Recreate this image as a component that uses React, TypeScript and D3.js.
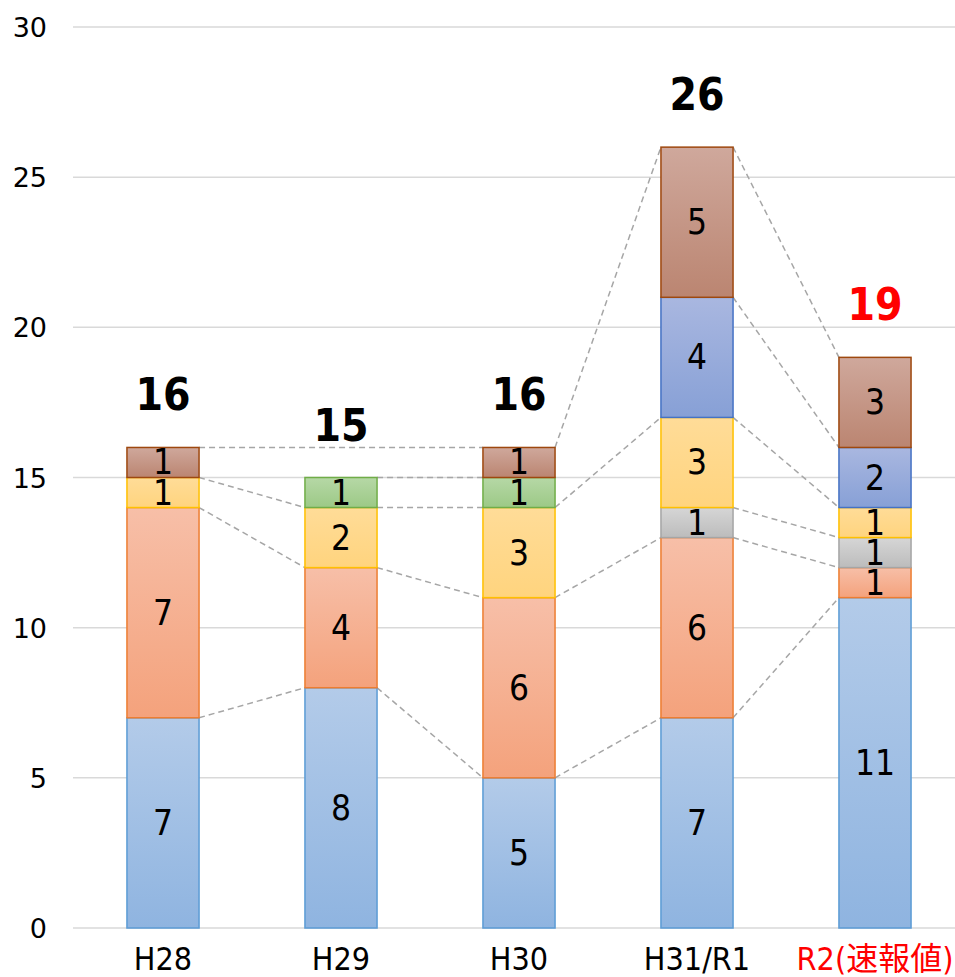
import React, { useEffect, useRef } from "react";
import * as d3 from "d3";

// categories (fiscal years)
const categories = ["H28", "H29", "H30", "H31/R1", "R2(速報値)"];

// series values, bottom to top; null = no bar segment
const blueValues = [7, 8, 5, 7, 11];
const orangeValues = [7, 4, 6, 6, 1];
const grayValues = [null, null, null, 1, 1];
const yellowValues = [1, 2, 3, 3, 1];
const greenValues = [null, 1, 1, null, null];
const navyValues = [null, null, null, 4, 2];
const brownValues = [1, null, 1, 5, 3];

const yTicks = [0, 5, 10, 15, 20, 25, 30];

const series = [
  { key: "blue", values: blueValues, top: "#b3cbe9", bottom: "#8fb4e0", stroke: "#5b9bd5" },
  { key: "orange", values: orangeValues, top: "#f7bfa8", bottom: "#f4a27c", stroke: "#ed7d31" },
  { key: "gray", values: grayValues, top: "#d6d6d6", bottom: "#bcbcbc", stroke: "#a5a5a5" },
  { key: "yellow", values: yellowValues, top: "#ffdc98", bottom: "#ffd47e", stroke: "#ffc000" },
  { key: "green", values: greenValues, top: "#b6d8a6", bottom: "#9cc986", stroke: "#70ad47" },
  { key: "navy", values: navyValues, top: "#a9b7e0", bottom: "#87a0d6", stroke: "#4472c4" },
  { key: "brown", values: brownValues, top: "#cfa89c", bottom: "#bb8571", stroke: "#9e480e" },
];

const narrow = "'DejaVu Sans Condensed', 'DejaVu Sans', 'Noto Sans CJK JP', sans-serif";

export default function App() {
  const ref = useRef(null);

  useEffect(() => {
    const root = d3.select(ref.current);
    root.selectAll("*").remove();

    const width = 955;
    const height = 977;

    const svg = root
      .append("svg")
      .attr("width", width)
      .attr("height", height)
      .style("position", "absolute")
      .style("left", 0)
      .style("top", 0)
      .style("background", "#fff");

    const x = d3
      .scaleBand()
      .domain(categories)
      .range([74, 964])
      .paddingInner(0.595)
      .paddingOuter(0.2975);

    const y = d3.scaleLinear().domain([0, 30]).range([928, 27]);

    // gradients
    const defs = svg.append("defs");
    series.forEach((s) => {
      const g = defs
        .append("linearGradient")
        .attr("id", "grad-" + s.key)
        .attr("x1", 0)
        .attr("y1", 0)
        .attr("x2", 0)
        .attr("y2", 1);
      g.append("stop").attr("offset", "0%").attr("stop-color", s.top);
      g.append("stop").attr("offset", "100%").attr("stop-color", s.bottom);
    });

    // gridlines
    svg
      .append("g")
      .selectAll("line")
      .data(yTicks)
      .enter()
      .append("line")
      .attr("x1", 73)
      .attr("x2", 955)
      .attr("y1", (d) => y(d))
      .attr("y2", (d) => y(d))
      .style("stroke", "#d9d9d9")
      .style("stroke-width", 1.5);

    // y tick labels
    svg
      .append("g")
      .selectAll("text")
      .data(yTicks)
      .enter()
      .append("text")
      .attr("x", 47)
      .attr("y", (d) => y(d) + 10)
      .attr("text-anchor", "end")
      .style("font-family", "'DejaVu Sans', sans-serif")
      .style("font-size", "27px")
      .style("fill", "#000")
      .text((d) => d);

    // stacked cumulative values
    const stacks = categories.map((c, i) => {
      let acc = 0;
      return series.map((s) => {
        const v = s.values[i];
        const y0 = acc;
        if (v != null) acc += v;
        return { key: s.key, v, y0, y1: acc };
      });
    });

    // series lines (dashed connectors between same series tops)
    const bw = x.bandwidth();
    const lines = svg.append("g");
    series.forEach((s, si) => {
      const idx = categories.map((c, i) => i).filter((i) => s.values[i] != null);
      for (let k = 0; k < idx.length - 1; k++) {
        const a = idx[k];
        const b = idx[k + 1];
        lines
          .append("line")
          .attr("x1", x(categories[a]) + bw)
          .attr("y1", y(stacks[a][si].y1))
          .attr("x2", x(categories[b]))
          .attr("y2", y(stacks[b][si].y1))
          .style("stroke", "#a6a6a6")
          .style("stroke-width", 1.5)
          .style("stroke-dasharray", "6,4");
      }
    });

    // bars
    series.forEach((s, si) => {
      const segs = categories
        .map((c, i) => ({ c, ...stacks[i][si] }))
        .filter((d) => d.v != null);

      svg
        .append("g")
        .selectAll("rect")
        .data(segs)
        .enter()
        .append("rect")
        .attr("x", (d) => x(d.c))
        .attr("y", (d) => y(d.y1))
        .attr("width", bw)
        .attr("height", (d) => y(d.y0) - y(d.y1))
        .style("fill", `url(#grad-${s.key})`)
        .style("stroke", s.stroke)
        .style("stroke-width", 1.5);

      svg
        .append("g")
        .selectAll("text")
        .data(segs)
        .enter()
        .append("text")
        .attr("x", (d) => x(d.c) + bw / 2)
        .attr("y", (d) => (y(d.y0) + y(d.y1)) / 2 + 12)
        .attr("text-anchor", "middle")
        .style("font-family", narrow)
        .style("font-size", "35px")
        .style("fill", "#000")
        .text((d) => d.v);
    });

    // totals
    const totals = stacks.map((st) => st[st.length - 1].y1);
    svg
      .append("g")
      .selectAll("text")
      .data(categories)
      .enter()
      .append("text")
      .attr("x", (d) => x(d) + bw / 2)
      .attr("y", (d, i) => y(totals[i]) - 37)
      .attr("text-anchor", "middle")
      .style("font-family", narrow)
      .style("font-weight", "bold")
      .style("font-size", "44px")
      .style("fill", (d, i) => (i === categories.length - 1 ? "#ff0000" : "#000"))
      .text((d, i) => totals[i]);

    // category labels
    svg
      .append("g")
      .selectAll("text")
      .data(categories)
      .enter()
      .append("text")
      .attr("x", (d) => x(d) + bw / 2)
      .attr("y", 970)
      .attr("text-anchor", "middle")
      .style("font-family", narrow)
      .style("font-size", "32px")
      .style("fill", (d, i) => (i === categories.length - 1 ? "#ff0000" : "#000"))
      .text((d) => d);
  }, []);

  return <div ref={ref} style={{ width: 955, height: 977 }}></div>;
}
